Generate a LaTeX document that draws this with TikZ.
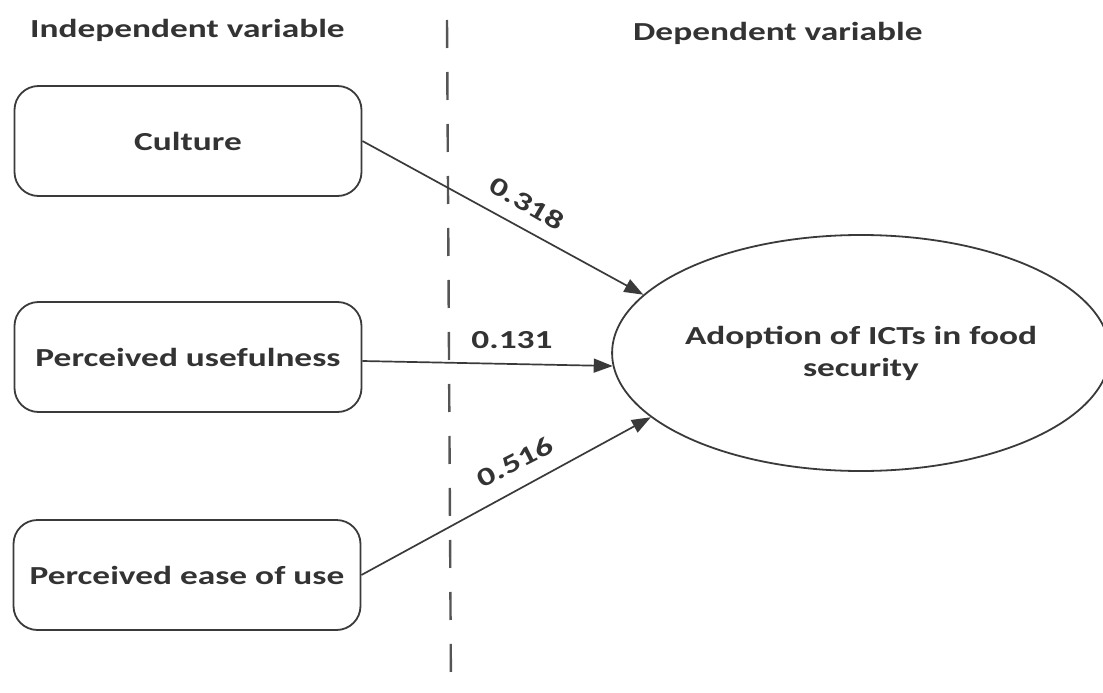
\documentclass[tikz,border=0pt]{standalone}
\usepackage{fontspec}
\setmainfont{Carlito}[FakeStretch=1.36]
\usetikzlibrary{arrows.meta,shapes.geometric}
\definecolor{ink}{HTML}{333333}
\definecolor{edge}{HTML}{3A3A3A}
\definecolor{dashgray}{HTML}{555555}
\begin{document}
\begin{tikzpicture}[x=1pt,y=-1pt,
  every node/.style={text=ink,font=\fontsize{26}{32}\selectfont\bfseries},
  varbox/.style={draw=edge,line width=1.8pt,rounded corners=24pt,minimum width=347pt,minimum height=110pt},
  outcome/.style={draw=edge,line width=1.8pt,ellipse,minimum width=486pt,minimum height=236pt,align=center,inner sep=0pt},
  link/.style={draw=edge,line width=1.7pt,-{Triangle[length=19pt,width=14pt]}},
  coef/.style={inner sep=0pt},
  divider/.style={draw=dashgray,line width=2.4pt,dash pattern=on 28pt off 24pt}]
\useasboundingbox (0,0) rectangle (1103,693);

% column headings
\node[anchor=west,inner sep=0pt] (ivhead) at (30,30) {Independent variable};
\node[anchor=west,inner sep=0pt] (dvhead) at (633,33) {Dependent variable};

% dividing line between the two columns
\coordinate (divtop) at (447,20);
\coordinate (divbot) at (451,693);
\draw[divider] (divtop) -- (divbot);

% predictors
\node[varbox] (cult) at (188,141) {Culture};
\node[varbox] (useful) at (188,357) {Perceived usefulness};
\node[varbox] (ease) at (187,575) {Perceived ease of use};

% outcome
\node[outcome] (adopt) at (861,353) {Adoption of ICTs in food\\security};

% paths with coefficients
\draw[link] (cult.east) -- (adopt.165);
\draw[link] (useful.east |- 0,361) -- (adopt.183);
\draw[link] (ease.east) -- (adopt.197);

\node[coef,rotate=-30] (c1) at (527,203) {0.318};
\node[coef] (c2) at (512,340) {0.131};
\node[coef,rotate=27] (c3) at (515,462) {0.516};
\end{tikzpicture}
\end{document}
